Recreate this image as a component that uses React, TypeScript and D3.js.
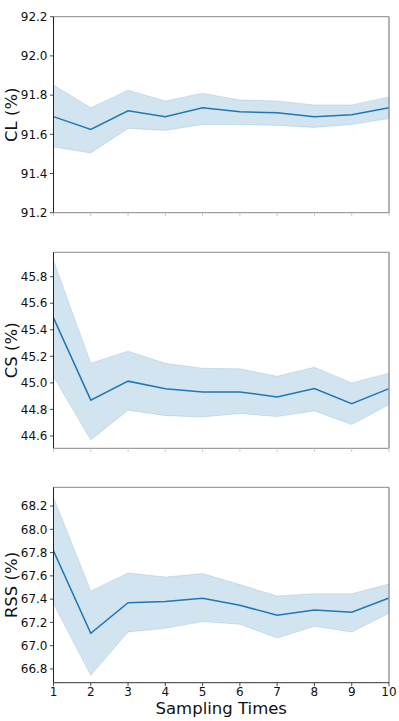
import React from "react";
import * as d3 from "d3";

const samples = [1, 2, 3, 4, 5, 6, 7, 8, 9, 10];

const clMean = [91.69, 91.625, 91.72, 91.69, 91.735, 91.715, 91.71, 91.69, 91.7, 91.735];
const clUpper = [91.851, 91.735, 91.825, 91.77, 91.81, 91.775, 91.77, 91.75, 91.75, 91.79];
const clLower = [91.535, 91.505, 91.63, 91.62, 91.65, 91.65, 91.645, 91.635, 91.65, 91.68];

const csMean = [45.49, 44.87, 45.013, 44.955, 44.932, 44.932, 44.894, 44.957, 44.844, 44.957];
const csUpper = [45.923, 45.148, 45.239, 45.148, 45.11, 45.106, 45.05, 45.118, 45.0, 45.073];
const csLower = [45.048, 44.57, 44.794, 44.753, 44.743, 44.769, 44.746, 44.789, 44.686, 44.836];

const rssMean = [67.815, 67.106, 67.37, 67.379, 67.407, 67.347, 67.261, 67.307, 67.287, 67.41];
const rssUpper = [68.274, 67.47, 67.625, 67.59, 67.62, 67.525, 67.427, 67.447, 67.447, 67.53];
const rssLower = [67.361, 66.745, 67.118, 67.149, 67.207, 67.184, 67.066, 67.166, 67.118, 67.278];

const clTicks = [91.2, 91.4, 91.6, 91.8, 92.0, 92.2];
const csTicks = [44.6, 44.8, 45.0, 45.2, 45.4, 45.6, 45.8];
const rssTicks = [66.8, 67.0, 67.2, 67.4, 67.6, 67.8, 68.0, 68.2];

const panels = [
  { label: "CL (%)", mean: clMean, upper: clUpper, lower: clLower, ticks: clTicks, domain: [91.2, 92.2], top: 16.7, bottom: 212.7 },
  { label: "CS (%)", mean: csMean, upper: csUpper, lower: csLower, ticks: csTicks, domain: [44.507, 45.984], top: 252.3, bottom: 448.3 },
  { label: "RSS (%)", mean: rssMean, upper: rssUpper, lower: rssLower, ticks: rssTicks, domain: [66.682, 68.361], top: 487.3, bottom: 682.7 },
];

const left = 53.5;
const right = 389;
const font = "DejaVu Sans, sans-serif";
const blue = "#1f77b4";

export default function App() {
  const x = d3.scaleLinear().domain([1, 10]).range([left, right]);

  return (
    <svg width={399} height={721} style={{ position: "absolute", left: 0, top: 0, background: "#fff" }}>
      {panels.map((p, pi) => {
        const y = d3.scaleLinear().domain(p.domain).range([p.bottom, p.top]);
        const area = d3
          .area<number>()
          .x((_, i) => x(samples[i]))
          .y0((_, i) => y(p.lower[i]))
          .y1((_, i) => y(p.upper[i]));
        const line = d3
          .line<number>()
          .x((_, i) => x(samples[i]))
          .y((d) => y(d));
        const last = pi === panels.length - 1;
        return (
          <g key={p.label}>
            <path d={area(p.mean) ?? ""} fill={blue} fillOpacity={0.2} stroke={blue} strokeOpacity={0.2} strokeWidth={0.8} />
            <path d={line(p.mean) ?? ""} fill="none" stroke={blue} strokeWidth={1.5} />
            {/* frame */}
            <line x1={left} x2={right} y1={p.top} y2={p.top} stroke="#888" strokeWidth={1} />
            <line x1={right} x2={right} y1={p.top} y2={p.bottom} stroke="#999" strokeWidth={1.5} />
            <line x1={left} x2={right} y1={p.bottom} y2={p.bottom} stroke={last ? "#333" : "#888"} strokeWidth={1} />
            <line x1={left} x2={left} y1={p.top} y2={p.bottom} stroke="#222" strokeWidth={1} />
            {p.ticks.map((t) => (
              <g key={t}>
                <line x1={left - 3.5} x2={left} y1={y(t)} y2={y(t)} stroke="#222" strokeWidth={0.8} />
                <text x={left - 6} y={y(t)} dy="0.35em" textAnchor="end" fontFamily={font} fontSize={12} fill="#111">
                  {t.toFixed(1)}
                </text>
              </g>
            ))}
            {samples.map((s) => (
              <g key={s}>
                <line x1={x(s)} x2={x(s)} y1={p.bottom} y2={p.bottom + 3.5} stroke={last ? "#222" : "#bbb"} strokeWidth={0.8} />
                {last && (
                  <text x={x(s)} y={p.bottom + 13} textAnchor="middle" fontFamily={font} fontSize={12} fill="#111">
                    {s}
                  </text>
                )}
              </g>
            ))}
            <text
              transform={`translate(17,${(p.top + p.bottom) / 2}) rotate(-90)`}
              textAnchor="middle"
              fontFamily={font}
              fontSize={16.5}
              fill="#111"
            >
              {p.label}
            </text>
          </g>
        );
      })}
      <text x={(left + right) / 2} y={714} textAnchor="middle" fontFamily={font} fontSize={16.5} fill="#111">
        Sampling Times
      </text>
    </svg>
  );
}
